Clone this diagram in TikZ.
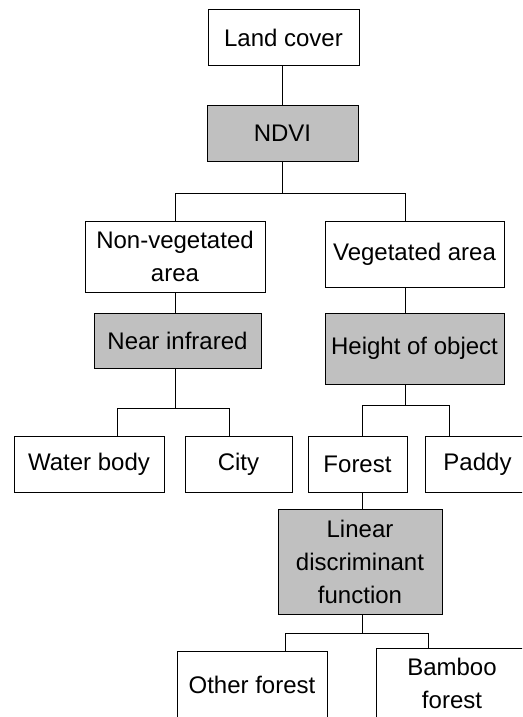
\documentclass[tikz,border=0pt]{standalone}
\usepackage{fontspec}
\setmainfont{Liberation Sans}
\usepackage{xcolor}
\definecolor{rulegray}{HTML}{C0C0C0}

\begin{document}
\begin{tikzpicture}[
    x=1pt, y=-1pt,
    font=\fontsize{24}{33}\selectfont,
    cls/.style={
      rectangle, draw, line width=1pt,
      inner sep=0pt, align=center
    },
    rule/.style={cls, fill=rulegray},
    link/.style={line width=1pt},
  ]
    \useasboundingbox (0,0) rectangle (522,717);
    \clip (0,0) rectangle (522,717);

    \node[cls,  minimum width=151, minimum height=56] (lc)     at (283.5,38)  {Land cover};
    \node[rule, minimum width=151, minimum height=56] (ndvi)   at (282.5,133) {NDVI};
    \node[cls,  minimum width=180, minimum height=71] (nveg)   at (175,256.5) {Non-vegetated\\area};
    \node[cls,  minimum width=179, minimum height=66] (veg)    at (414.5,254) {Vegetated area};
    \node[rule, minimum width=167, minimum height=55] (nir)    at (177.5,340.5) {Near infrared};
    \node[rule, minimum width=179, minimum height=71] (hgt)    at (414.5,348.5) {Height of object};
    \node[cls,  minimum width=150, minimum height=56] (water)  at (89,464)    {Water body};
    \node[cls,  minimum width=107, minimum height=56] (city)   at (238.5,464) {City};
    \node[cls,  minimum width=99,  minimum height=56] (forest) at (357.5,464) {Forest};
    \node[cls,  minimum width=105, minimum height=56] (paddy)  at (477.5,464) {Paddy};
    \node[rule, minimum width=164, minimum height=105] (ldf)   at (360,561.5) {Linear\\discriminant\\function};
    \node[cls,  minimum width=150, minimum height=68] (other)  at (252,685)   {Other forest};
    \node[cls,  minimum width=152, minimum height=70] (bamboo) at (452,683)   {Bamboo\\forest};

    % junctions of the forks
    \coordinate (j1a) at (175,193);  \coordinate (j1b) at (405,193);
    \coordinate (j2a) at (117,408);  \coordinate (j2b) at (229,408);
    \coordinate (j3a) at (362,405);  \coordinate (j3b) at (449,405);
    \coordinate (j4a) at (285,633);  \coordinate (j4b) at (428,633);

    \draw[link] (ndvi.north |- lc.south) -- (ndvi.north);
    \draw[link] (ndvi.south) -- (ndvi.south |- j1a);
    \draw[link] (j1a |- nveg.north) -- (j1a) -- (j1b) -- (j1b |- veg.north);

    \draw[link] (j1a |- nveg.south) -- (j1a |- nir.north);
    \draw[link] (j1a |- nir.south) -- (j1a |- j2a);
    \draw[link] (j2a |- water.north) -- (j2a) -- (j2b) -- (j2b |- city.north);

    \draw[link] (j1b |- veg.south) -- (j1b |- hgt.north);
    \draw[link] (j1b |- hgt.south) -- (j1b |- j3a);
    \draw[link] (j3a |- forest.north) -- (j3a) -- (j3b) -- (j3b |- paddy.north);

    \draw[link] (j3a |- forest.south) -- (j3a |- ldf.north);
    \draw[link] (j3a |- ldf.south) -- (j3a |- j4a);
    \draw[link] (j4a |- other.north) -- (j4a) -- (j4b) -- (j4b |- bamboo.north);
  \end{tikzpicture}
\end{document}
